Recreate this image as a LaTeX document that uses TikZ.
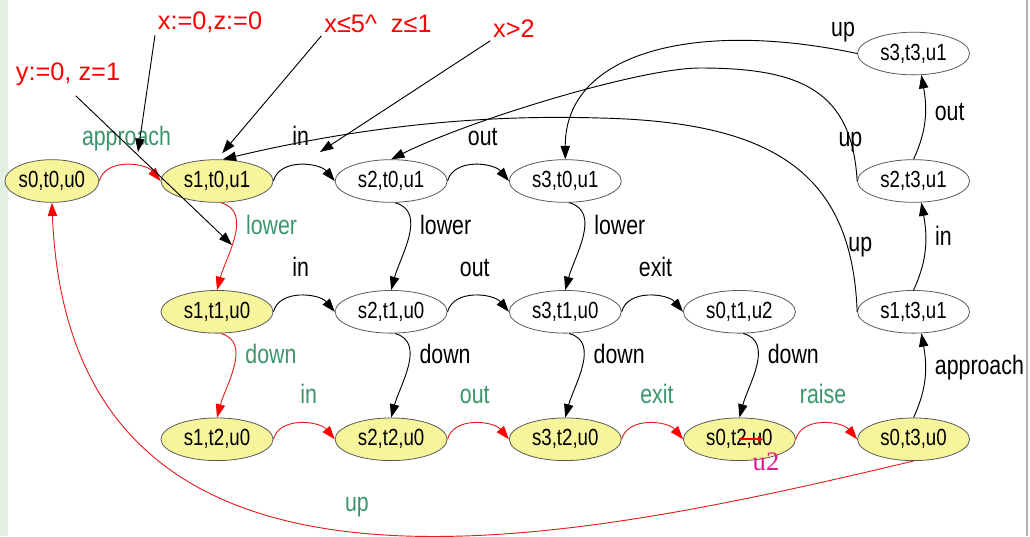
\documentclass[tikz,border=0pt]{standalone}
\usepackage{fontspec}
\usetikzlibrary{positioning,shapes.geometric,arrows.meta}
\newfontfamily\statefont[FakeStretch=0.8]{Liberation Sans}
\newfontfamily\notefont{Liberation Sans}
\newfontfamily\markfont{Liberation Serif}
\definecolor{stateyellow}{HTML}{F7F59B}
\definecolor{labelgreen}{HTML}{3A966A}
\definecolor{edgered}{HTML}{E02020}
\definecolor{markpink}{HTML}{E6148C}
\definecolor{stripgreen}{HTML}{E4EFE4}
\tikzset{state/.style={ellipse, draw=black!65, line width=0.6pt, minimum width=84pt, minimum height=32pt, inner sep=0pt, font=\statefont\fontsize{17.5}{17.5}\selectfont},
  live/.style={state, fill=stateyellow},
  lbl/.style={font=\statefont\fontsize{20}{20}\selectfont, inner sep=1pt, text height=13pt, text depth=3.5pt},
  glbl/.style={lbl, text=labelgreen},
  note/.style={font=\notefont\fontsize{19}{20}\selectfont, text=red, inner sep=2pt},
  line/.style={line width=0.7pt, -{Triangle[length=10pt,width=7pt]}},
  redline/.style={draw=edgered, line width=0.7pt, -{Triangle[length=10pt,width=7pt,color=red]}}}

\begin{document}
\begin{tikzpicture}[x=0.75pt,y=-0.75pt]
    \useasboundingbox (0,0) rectangle (1030,536);
    \fill[stripgreen] (0,0) rectangle (8,536);
    \draw[black!30, line width=1.2pt] (1027,0) -- (1027,536);

    % top row
    \node[live] at (217,181)                        (s10) {s1,t0,u1};
    \node[live,minimum width=68pt,left=46pt of s10] (s00) {s0,t0,u0};
    \node[state,right=46pt of s10]                  (s20) {s2,t0,u1};
    \node[state,right=46pt of s20]                  (s30) {s3,t0,u1};
    % middle row
    \node[live,below=65.5pt of s10]                 (s11) {s1,t1,u0};
    \node[state,right=46pt of s11]                  (s21) {s2,t1,u0};
    \node[state,right=46pt of s21]                  (s31) {s3,t1,u0};
    \node[state,right=46pt of s31]                  (s01) {s0,t1,u2};
    % bottom row
    \node[live,below=63pt of s11]                   (s12) {s1,t2,u0};
    \node[live,right=46pt of s12]                   (s22) {s2,t2,u0};
    \node[live,right=46pt of s22]                   (s32) {s3,t2,u0};
    \node[live,right=46pt of s32]                   (s02) {s0,t2,u0};
    \node[live,right=46pt of s02]                   (s03) {s0,t3,u0};
    % right column
    \node[state,above=63pt of s03]                  (s13) {s1,t3,u1};
    \node[state,above=65.5pt of s13]                (s23) {s2,t3,u1};
    \node[state,above=63pt of s23]                  (s33) {s3,t3,u1};

    % guards and resets
    \node[note] at (210,22)  (nxz)    {x:=0,z:=0};
    \node[note] at (68,74)   (nyz)    {y:=0,  z=1};
    \node[note] at (378,24)  (nguard) {x≤5\textasciicircum\ \ z≤1};
    \node[note] at (514,29)  (nx2)    {x>2};
    \coordinate (aimapp)   at (138,152);
    \coordinate (aimlower) at (232,245);
    \coordinate (aimin)    at (320,152);

    \draw[redline] (s00.east) to[out=75,in=130] node[glbl,above=10pt] {approach} (s10.west);
    \draw[line]    (s10.east) to[out=75,in=130] node[lbl,above=10pt] {in} (s20.west);
    \draw[line]    (s20.east) to[out=75,in=130] node[lbl,above=10pt,xshift=6pt] {out} (s30.west);

    \draw[line]    (s11.east) to[out=75,in=130] node[lbl,above=10pt] {in} (s21.west);
    \draw[line]    (s21.east) to[out=75,in=130] node[lbl,above=10pt] {out} (s31.west);
    \draw[line]    (s31.east) to[out=75,in=130] node[lbl,above=10pt,xshift=5pt] {exit} (s01.west);

    \draw[redline] (s12.east) to[out=75,in=130] node[glbl,above=10pt,xshift=6pt] {in} (s22.west);
    \draw[redline] (s22.east) to[out=75,in=130] node[glbl,above=10pt] {out} (s32.west);
    \draw[redline] (s32.east) to[out=75,in=130] node[glbl,above=10pt,xshift=6pt] {exit} (s02.west);
    \draw[redline] (s02.east) to[out=75,in=130] node[glbl,above=10pt] {raise} (s03.west);

    \draw[redline] (s10.-80) to[out=-15,in=75] node[glbl,right=6pt,pos=0.4] {lower} (s11.north);
    \draw[redline] (s11.-80) to[out=-15,in=75] node[glbl,right=6pt,pos=0.4] {down} (s12.north);
    \draw[line]    (s20.-80) to[out=-15,in=75] node[lbl,right=6pt,pos=0.4] {lower} (s21.north);
    \draw[line]    (s30.-80) to[out=-15,in=75] node[lbl,right=6pt,pos=0.4] {lower} (s31.north);
    \draw[line]    (s21.-80) to[out=-15,in=75] node[lbl,right=6pt,pos=0.4] {down} (s22.north);
    \draw[line]    (s31.-80) to[out=-15,in=75] node[lbl,right=6pt,pos=0.4] {down} (s32.north);
    \draw[line]    (s01.-80) to[out=-15,in=75] node[lbl,right=6pt,pos=0.4] {down} (s02.north);

    \draw[line]    (s03.north) to[out=65,in=-80] node[lbl,right=6pt,pos=0.6] {approach} (s13.-70);
    \draw[line]    (s13.north) to[out=65,in=-80] node[lbl,right=6pt,pos=0.6] {in} (s23.-70);
    \draw[line]    (s23.north) to[out=65,in=-80] node[lbl,right=6pt,pos=0.55] {out} (s33.-70);

    % up edges back to t0
    \draw[line] (s33.west) .. controls (700,20) and (565,50) .. (s30.north)
        node[lbl,pos=0.03,above=6pt] {up};
    \draw[line] (s23.west) .. controls (852,90) and (800,68) .. (700,68)
        node[lbl,pos=0.17] {up}
        .. controls (640,68) and (470,120) .. (s20.north);
    \draw[line] (s13.west) .. controls (852,170) and (770,122) .. (600,118)
        node[lbl,pos=0.15,xshift=8pt,yshift=7pt] {up}
        .. controls (500,115) and (380,122) .. (s10.75);
    \draw[redline] (s03.south) .. controls (560,545) and (70,650) .. (s00.south)
        node[glbl,pos=0.5,above=10pt] {up};

    % annotation arrows
    \draw[line]               (nxz.south west) -- (aimapp);
    \draw[line,shorten <=8pt] (nyz.south) -- (aimlower);
    \draw[line,shorten >=6pt] (nguard.south west) -- (s10.north);
    \draw[line]               (nx2.south west) -- (aimin);

    \draw[red, line width=1.5pt, -{Latex[length=4pt,width=5pt]}] (s02.center) -- ([xshift=18pt]s02.center);
    \node[font=\markfont\fontsize{20}{20}\selectfont, text=markpink, inner sep=0pt] at (766,462) (u2) {u2};
\end{tikzpicture}
\end{document}
